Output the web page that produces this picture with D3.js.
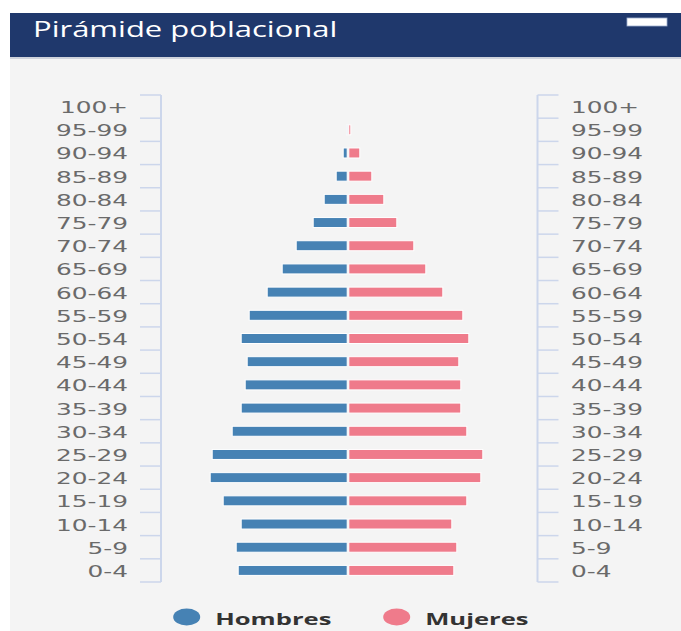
<!DOCTYPE html>
<html>
<head>
<meta charset="utf-8">
<script src="https://cdn.jsdelivr.net/npm/d3@7"></script>
<style>
  html, body { margin: 0; padding: 0; background: #ffffff; }
  svg { display: block; }
</style>
</head>
<body>
<svg id="chart" width="681" height="631"></svg>
<script>
// ---- data (population, thousands; no axis values shown) ----
const categories = ["0-4","5-9","10-14","15-19","20-24","25-29","30-34","35-39","40-44","45-49",
                    "50-54","55-59","60-64","65-69","70-74","75-79","80-84","85-89","90-94","95-99","100+"];
const hombres = [109, 111, 106, 124, 137, 135, 115, 106, 102, 100, 106, 98, 80, 65, 51, 34, 23, 11, 4, 0.5, 0];
const mujeres = [105, 108, 103, 118, 132, 134, 118, 112, 112, 110, 120, 114, 94, 77, 65, 48, 35, 23, 11, 2, 0];
const seriesNames = ["Hombres", "Mujeres"];
const seriesColors = ["#4682b4", "#ef7b8b"];
const titleText = "Pirámide poblacional";
const maxValue = 187;

// ---- layout ----
const W = 681, H = 631;
const plotLeft = 161, plotRight = 535, plotTop = 95, plotBottom = 582;
const rightAxisX = 537.5;
const SX = 1.55;      // horizontal stretch of glyphs as in reference
const gap = 0.8;

const svg = d3.select("#chart");

// background panels
svg.append("rect").attr("x", 10).attr("y", 57).attr("width", W - 10).attr("height", H - 57).attr("fill", "#f4f4f4");
svg.append("rect").attr("x", 10).attr("y", 57).attr("width", W - 10).attr("height", 2).attr("fill", "#cfd3dc");
svg.append("rect").attr("x", 10).attr("y", 13).attr("width", W - 10).attr("height", 44).attr("fill", "#1f386c");
svg.append("rect").attr("x", 627).attr("y", 18).attr("width", 40).attr("height", 8)
   .attr("fill", "#ffffff").attr("stroke", "#9fb0d0").attr("stroke-width", 0.8);
svg.append("text")
   .attr("transform", `translate(33,37) scale(1.41,1)`)
   .attr("font-family", "'Open Sans', sans-serif").attr("font-size", 22)
   .attr("fill", "#ffffff").text(titleText);

// scales
const x = d3.scaleLinear().domain([-maxValue, maxValue]).range([plotLeft, plotRight]);
const y = d3.scaleBand().domain(categories.slice().reverse()).range([plotTop, plotBottom]).padding(0);
const barH = 10;

// axes (lines + ticks at band boundaries)
const axisColor = "#ccd6eb";
const boundaries = d3.range(categories.length + 1).map(i => plotTop + i * y.bandwidth());
const axG = svg.append("g");
axG.append("line").attr("x1", plotLeft).attr("x2", plotLeft).attr("y1", plotTop).attr("y2", plotBottom)
   .attr("stroke", axisColor).attr("stroke-width", 2);
axG.append("line").attr("x1", rightAxisX).attr("x2", rightAxisX).attr("y1", plotTop).attr("y2", plotBottom)
   .attr("stroke", axisColor).attr("stroke-width", 2);
axG.selectAll(".tl").data(boundaries).join("line")
   .attr("x1", plotLeft - 21).attr("x2", plotLeft).attr("y1", d => d).attr("y2", d => d)
   .attr("stroke", axisColor).attr("stroke-width", 1.5);
axG.selectAll(".tr").data(boundaries).join("line").attr("class", "tr")
   .attr("x1", rightAxisX).attr("x2", rightAxisX + 21).attr("y1", d => d).attr("y2", d => d)
   .attr("stroke", axisColor).attr("stroke-width", 1.5);

// labels
const labelFont = "'DejaVu Sans', sans-serif";
svg.append("g").selectAll("text").data(categories).join("text")
   .attr("transform", d => `translate(128,${y(d) + y.bandwidth() / 2 + 6.5}) scale(${SX},1)`)
   .attr("text-anchor", "end").attr("font-family", labelFont).attr("font-size", 16)
   .attr("fill", "#6a6a6a").text(d => d);
svg.append("g").selectAll("text").data(categories).join("text")
   .attr("transform", d => `translate(571,${y(d) + y.bandwidth() / 2 + 6.5}) scale(${SX},1)`)
   .attr("text-anchor", "start").attr("font-family", labelFont).attr("font-size", 16)
   .attr("fill", "#6a6a6a").text(d => d);

// bars
const bars = svg.append("g");
bars.selectAll(".m").data(categories).join("rect")
   .attr("x", (d, i) => x(-hombres[i]) - gap)
   .attr("width", (d, i) => x(0) - x(-hombres[i]))
   .attr("y", d => y(d) + y.bandwidth() / 2 - barH / 2)
   .attr("height", barH)
   .attr("fill", seriesColors[0]).attr("stroke", "#ffffff").attr("stroke-width", 1);
bars.selectAll(".f").data(categories).join("rect").attr("class", "f")
   .attr("x", x(0) + gap)
   .attr("width", (d, i) => x(mujeres[i]) - x(0))
   .attr("y", d => y(d) + y.bandwidth() / 2 - barH / 2)
   .attr("height", barH)
   .attr("fill", seriesColors[1]).attr("stroke", "#ffffff").attr("stroke-width", 1);

// legend
const legendX = [186.7, 396.7];
const lg = svg.append("g");
seriesNames.forEach((name, i) => {
  lg.append("ellipse").attr("cx", legendX[i]).attr("cy", 617).attr("rx", 13.5).attr("ry", 8.5)
    .attr("fill", seriesColors[i]);
  lg.append("text")
    .attr("transform", `translate(${legendX[i] + 28.5},625) scale(1.6,1)`)
    .attr("font-family", "'Open Sans', sans-serif").attr("font-weight", "bold").attr("font-size", 16)
    .attr("fill", "#333333").text(name);
});
</script>
</body>
</html>
